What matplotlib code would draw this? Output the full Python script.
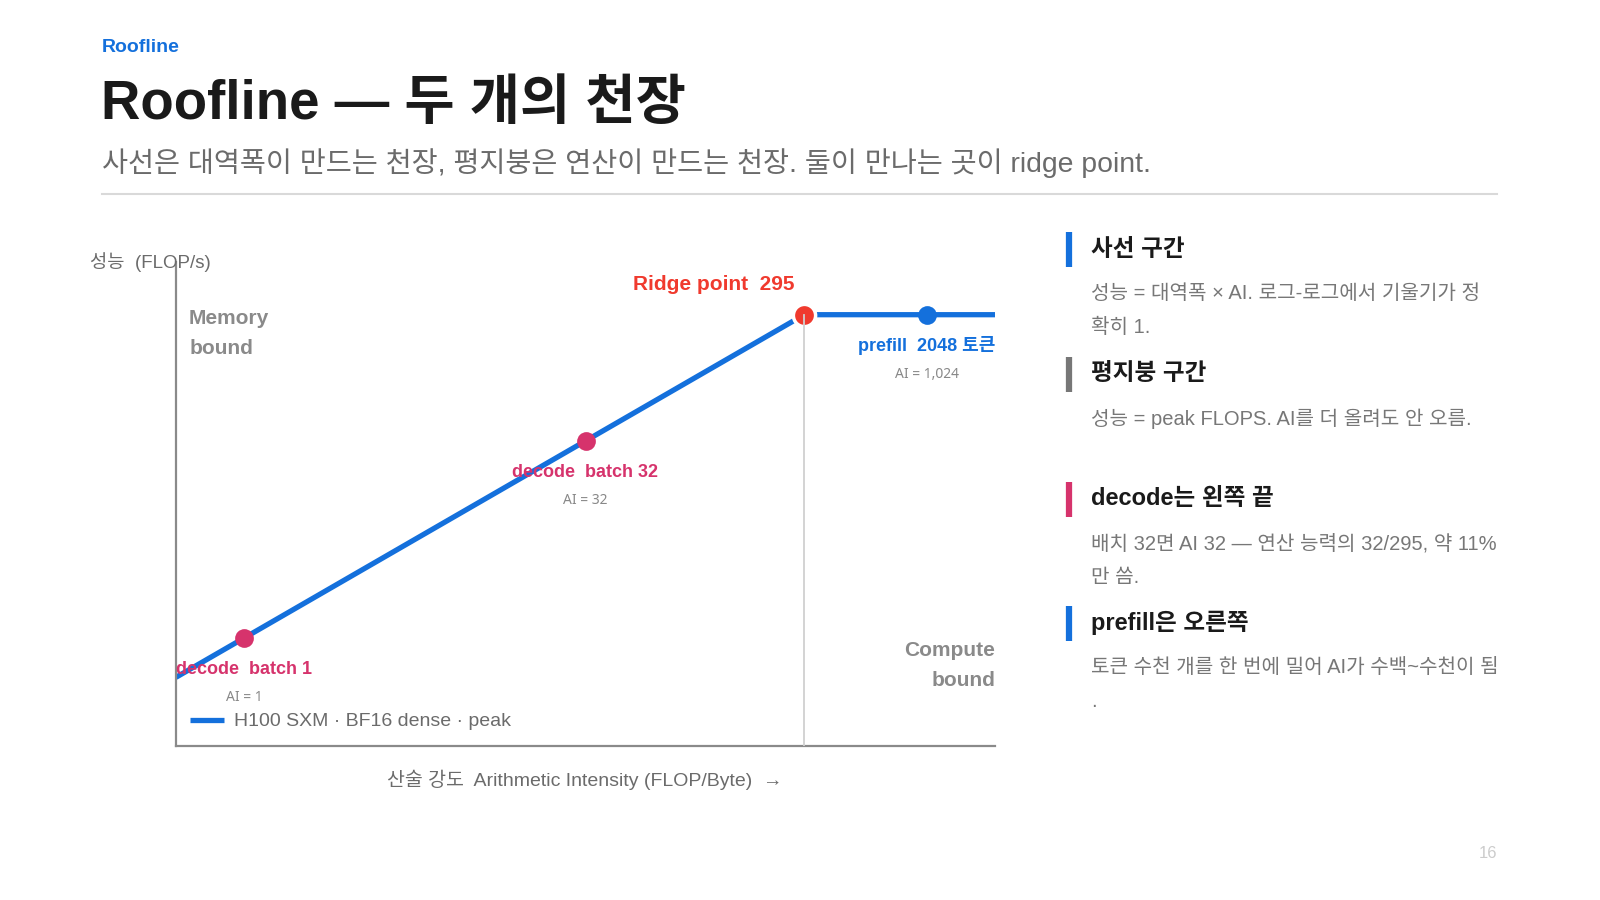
import numpy as np
import matplotlib.pyplot as plt

# --- 데이터 (H100 SXM, BF16 dense) ---
BW_TBS = 3.35          # HBM 대역폭 TB/s
PEAK_TFLOPS = 989.0    # peak TFLOP/s
RIDGE_AI = 295

roof_ai = [0.5, 295, 2048]
roof_perf = [1.675, 989.0, 989.0]

pt_names = ["decode  batch 1", "decode  batch 32", "Ridge point  295", "prefill  2048 토큰"]
pt_ai = [1, 32, 295, 1024]
pt_perf = [3.35, 107.2, 989.0, 989.0]
pt_sub = ["AI = 1", "AI = 32", "", "AI = 1,024"]

BLUE = "#1470dc"
RED = "#f03a2e"
CRIMSON = "#d6336c"
GRAY = "#777777"

FONTS = ["Liberation Sans", "Noto Sans CJK KR", "DejaVu Sans"]
plt.rcParams["font.family"] = FONTS

fig = plt.figure(figsize=(16, 9), dpi=100)
W, H = 1600, 900

def fx(px):
    return px / W

def fy(py):
    return 1 - py / H

# --- 헤더 ---
fig.text(fx(102), fy(47), "Roofline", color=BLUE, fontsize=14, fontweight="bold", va="center")
fig.text(fx(101), fy(105), "Roofline — 두 개의 천장", color="#1a1a1a", fontsize=39.3,
         fontweight="bold", va="center")
fig.text(fx(102), fy(163), "사선은 대역폭이 만드는 천장, 평지붕은 연산이 만드는 천장. 둘이 만나는 곳이 ridge point.",
         color="#6b6b6b", fontsize=20.4, va="center")
fig.add_artist(plt.Line2D([fx(102), fx(1497)], [fy(194), fy(194)], color="#d9d9d9", lw=1.5))

# --- 차트 ---
ax = fig.add_axes([fx(176), fy(746), fx(995 - 176), (746 - 262) / H])
ax.set_xscale("log", base=2)
ax.set_yscale("log", base=2)
ax.set_xlim(0.5, 2048)
ax.set_ylim(0.5, 2500)
for s in ["top", "right"]:
    ax.spines[s].set_visible(False)
for s in ["left", "bottom"]:
    ax.spines[s].set_color("#8a8a8a")
    ax.spines[s].set_linewidth(1.6)
ax.set_xticks([])
ax.set_yticks([])
ax.minorticks_off()
ax.tick_params(which="both", length=0)

ax.plot(roof_ai, roof_perf, color=BLUE, lw=3.8, solid_capstyle="butt", zorder=2,
        label="H100 SXM · BF16 dense · peak")
ax.plot([RIDGE_AI, RIDGE_AI], [0.5, PEAK_TFLOPS], color="#d0d0d0", lw=1.3, zorder=4)

colors = [CRIMSON, CRIMSON, RED, BLUE]
for i in range(len(pt_ai)):
    big = i == 2
    ax.plot(pt_ai[i], pt_perf[i], "o", ms=16 if big else 13.5, color=colors[i],
            mec="white" if big else colors[i], mew=2.5 if big else 0, zorder=3)
    if big:
        ax.annotate(pt_names[i], (pt_ai[i], pt_perf[i]), xytext=(-7, 22),
                    textcoords="offset points", ha="right", va="center",
                    color=colors[i], fontsize=15, fontweight="bold")
    else:
        ax.annotate(pt_names[i], (pt_ai[i], pt_perf[i]), xytext=(0, -22.5),
                    textcoords="offset points", ha="center", va="center",
                    color=colors[i], fontsize=13, fontweight="bold", zorder=5)
        ax.annotate(pt_sub[i], (pt_ai[i], pt_perf[i]), xytext=(0, -43),
                    textcoords="offset points", ha="center", va="center",
                    color="#888888", fontsize=10, family=["Noto Sans", "DejaVu Sans"])

ax.text(0.016, 0.853, "Memory\nbound", transform=ax.transAxes, ha="left", va="center",
        color="#8a8a8a", fontsize=15, fontweight="bold", linespacing=1.75)
ax.text(1.0, 0.167, "Compute\nbound", transform=ax.transAxes, ha="right", va="center",
        color="#8a8a8a", fontsize=15, fontweight="bold", linespacing=1.75, multialignment="right")

leg = ax.legend(loc="lower left", bbox_to_anchor=(0.0, 0.004), frameon=False, fontsize=14,
                handlelength=1.75, handletextpad=0.55, borderaxespad=0.3)
for t in leg.get_texts():
    t.set_color("#6b6b6b")

fig.text(fx(90), fy(262), "성능  (FLOP/s)", color="#6b6b6b", fontsize=13.5, va="center")
fig.text(fx(585), fy(780), "산술 강도  Arithmetic Intensity (FLOP/Byte)  →", color="#6b6b6b",
         fontsize=14, va="center", ha="center")

# --- 오른쪽 설명 ---
notes = [
    ("사선 구간", "성능 = 대역폭 × AI. 로그-로그에서 기울기가 정\n확히 1.", BLUE, 249),
    ("평지붕 구간", "성능 = peak FLOPS. AI를 더 올려도 안 오름.", "#777777", 374),
    ("decode는 왼쪽 끝", "배치 32면 AI 32 — 연산 능력의 32/295, 약 11%\n만 씀.", CRIMSON, 499),
    ("prefill은 오른쪽", "토큰 수천 개를 한 번에 밀어 AI가 수백~수천이 됨\n.", BLUE, 623),
]
for head, body, c, y in notes:
    fig.add_artist(plt.Line2D([fx(1069), fx(1069)], [fy(y - 17), fy(y + 18)], color=c, lw=4.5,
                              solid_capstyle="butt"))
    fig.text(fx(1091), fy(y), head, color="#1a1a1a", fontsize=17, fontweight="bold", va="center")
    fig.text(fx(1091), fy(y + 35), body, color="#777777", fontsize=14.5, va="top",
             linespacing=1.97)

fig.text(fx(1488), fy(853), "16", color="#cccccc", fontsize=12, ha="center", va="center")

fig.savefig("out.png", dpi=100, facecolor="white")
